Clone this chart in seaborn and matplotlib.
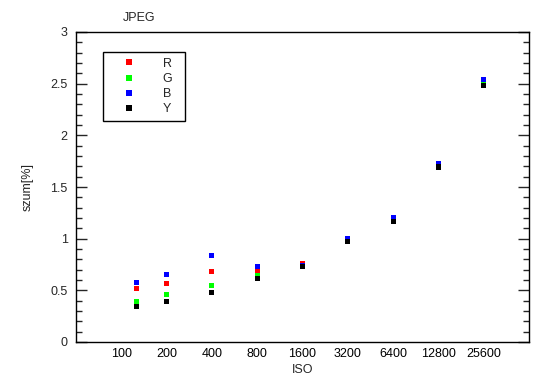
import matplotlib
matplotlib.use("Agg")
from matplotlib import pyplot as plt
from matplotlib.ticker import MultipleLocator, FixedLocator, FuncFormatter
import seaborn as sns
import pandas as pd

# ISO values (labels) and the measured ISO of each point
iso_labels = [100, 200, 400, 800, 1600, 3200, 6400, 12800, 25600]
iso_points = [126, 200, 400, 800, 1600, 3200, 6400, 12800, 25600]

# noise [%] per channel
noise_r = [0.52, 0.568, 0.684, 0.686, 0.76, 0.995, 1.19, 1.72, 2.535]
noise_g = [0.394, 0.46, 0.549, 0.641, 0.735, 0.99, 1.185, 1.715, 2.515]
noise_b = [0.578, 0.655, 0.839, 0.734, 0.74, 1.0, 1.2, 1.73, 2.543]
noise_y = [0.345, 0.394, 0.481, 0.618, 0.733, 0.973, 1.168, 1.694, 2.485]

channels = ["R", "G", "B", "Y"]
palette = {"R": "#ff0000", "G": "#00ff00", "B": "#0000ff", "Y": "#000000"}

df = pd.concat([
    pd.DataFrame({"ISO": iso_points, "szum": vals, "kanal": ch})
    for ch, vals in zip(channels, [noise_r, noise_g, noise_b, noise_y])
])

sns.set_style("ticks")
plt.rcParams["font.family"] = ["Liberation Sans", "DejaVu Sans"]
plt.rcParams["font.size"] = 9

fig = plt.figure(figsize=(5.5, 3.89), dpi=100)
ax = fig.add_axes([76 / 550, 47 / 389, 453 / 550, 310 / 389])

sns.scatterplot(data=df, x="ISO", y="szum", hue="kanal", hue_order=channels,
                palette=palette, marker="s", s=14, linewidth=0, ax=ax)

ax.set_xscale("log", base=2)
ax.set_xlim(50, 51200)
ax.xaxis.set_major_locator(FixedLocator(iso_labels))
ax.xaxis.set_minor_locator(FixedLocator([]))
ax.set_xticklabels([str(v) for v in iso_labels])
ax.tick_params(axis="x", length=0, pad=4, labelsize=9, colors="black")

ax.set_ylim(0, 3)
ax.yaxis.set_major_locator(MultipleLocator(0.5))
ax.yaxis.set_minor_locator(MultipleLocator(0.1))
ax.yaxis.set_major_formatter(FuncFormatter(lambda v, p: f"{v:g}"))
ax.tick_params(axis="y", which="major", direction="in", length=8, width=1,
               left=True, right=True, pad=6, labelsize=9)
ax.tick_params(axis="y", which="minor", direction="in", length=4.5, width=1,
               left=True, right=True)

for sp in ax.spines.values():
    sp.set_visible(True)
    sp.set_color("black")
    sp.set_linewidth(1)

ax.set_xlabel("ISO", fontsize=9, labelpad=3)
ax.set_ylabel("szum[%]", fontsize=9, labelpad=12)

handles, labels = ax.get_legend_handles_labels()
labels = [l + "  " for l in labels]
leg = ax.legend(handles, labels, loc="upper left", bbox_to_anchor=(0.06, 0.935),
                frameon=True, fancybox=False, edgecolor="black", framealpha=1,
                handletextpad=1.0, labelspacing=0.25, borderpad=0.45,
                handlelength=3.3, borderaxespad=0, fontsize=9,
                markerscale=1.0)
leg.get_frame().set_linewidth(1)

fig.text(139 / 550, 1 - 18 / 389, "JPEG", ha="center", va="center", fontsize=9)

fig.savefig("out.png", dpi=100)
